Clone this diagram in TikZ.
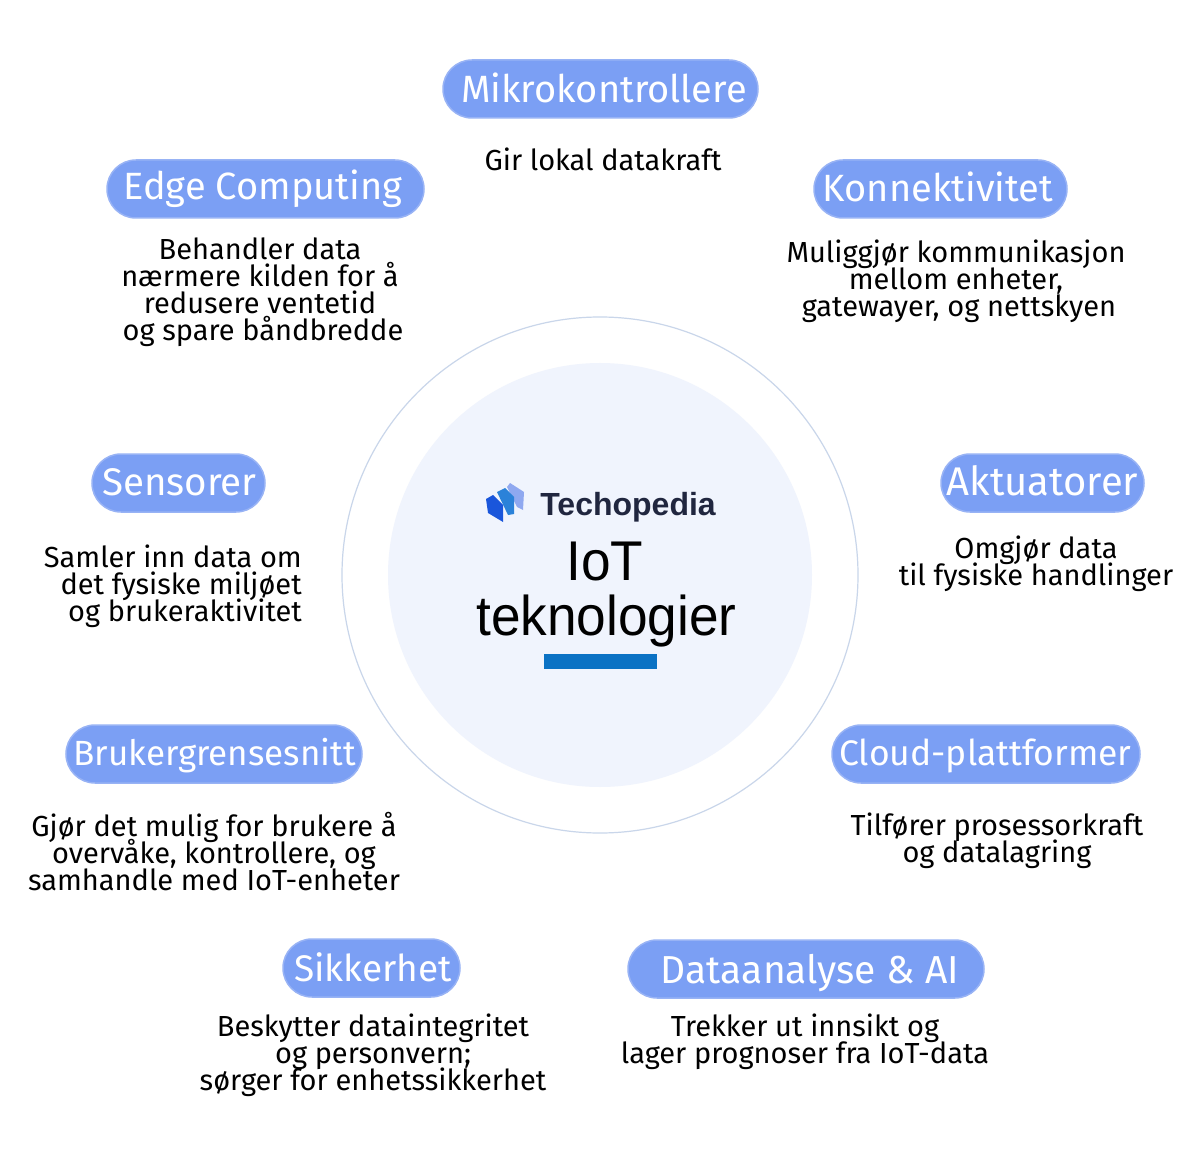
\documentclass[tikz,border=0pt]{standalone}
\usepackage{fontspec}
\setmainfont{Fira Sans}
\newfontfamily\headfont[FakeStretch=0.95]{Liberation Sans}
\newfontfamily\logofont{Liberation Sans}
\definecolor{pillblue}{HTML}{7B9FF4}
\definecolor{pilledge}{HTML}{98B3F5}
\definecolor{ringc}{HTML}{C9D6EA}
\definecolor{discc}{HTML}{F0F4FD}
\definecolor{barc}{HTML}{0B72C4}
\definecolor{navy}{HTML}{20263F}
\definecolor{logoa}{HTML}{1A56DB}
\definecolor{logob}{HTML}{2B82D9}
\definecolor{logoc}{HTML}{8FA8F0}
\normallineskiplimit=-100pt
\lineskiplimit=-100pt
\tikzset{
 pill/.style={rectangle,rounded corners=29pt,draw=pilledge,line width=1.5pt,fill=pillblue,text=white,inner sep=0pt,minimum height=58pt,text height=34pt,text depth=8pt,font=\fontsize{#1}{#1}\selectfont},
 desc/.style={text=black,inner sep=0pt,font=\fontsize{29}{27}\selectfont,align=center},
 descr/.style={desc,align=right},
 title/.style={inner sep=0pt,font=\headfont\fontsize{56}{56}\selectfont},
}
\newcommand{\upby}[2]{\raisebox{#1}[0pt][0pt]{#2}}
\begin{document}
\begin{tikzpicture}[x=1pt,y=-1pt]
\useasboundingbox (0,0) rectangle (1200,1150);
\fill[white] (0,0) rectangle (1200,1150);
\node[circle,draw=ringc,line width=1.2pt,minimum size=516pt,inner sep=0pt] (ring) at (600,575) {};
\node[circle,fill=discc,minimum size=424pt,inner sep=0pt] (disc) at (600,575) {};
% logo
\fill[logoc] (507,487) -- (510,483) -- (524,492) -- (523,510) -- (517,507) -- cycle;
\fill[logob] (497,492) -- (505,488) -- (514,497) -- (514,514) -- (508,515) -- cycle;
\fill[logoa] (486,499) -- (493,495) -- (503,505) -- (503,522) -- (488,513) -- cycle;
\node[inner sep=0pt,text=navy,font=\logofont\fontsize{32}{32}\selectfont\bfseries] (logo) at (628,507) {Techopedia};
\node[title,anchor=base] (t1) at (605,580) {IoT};
\node[title,anchor=base] (t2) at (606.5,635) {teknologier};
\node[fill=barc,minimum width=113pt,minimum height=15pt,inner sep=0pt] (bar) at (600.5,661.5) {};
% pills
\node[pill=38,minimum width=315pt] (p1) at (600.5,89) {\hspace*{7pt}\upby{-1pt}{Mikrokontrollere}};
\node[pill=38,minimum width=317pt] (p2) at (265.5,189) {\hspace*{-5pt}\upby{2pt}{Edge Computing}};
\node[pill=38,minimum width=253pt] (p3) at (940.5,189) {\hspace*{-5pt}Konnektivitet};
\node[pill=38.5,minimum width=173pt] (p4) at (178.5,483) {\hspace*{2pt}\upby{1pt}{Sensorer}};
\node[pill=40,minimum width=203pt] (p5) at (1042.5,483) {\upby{1pt}{Aktuatorer}};
\node[pill=35,minimum width=296pt] (p6) at (214,754) {\hspace*{1pt}\upby{2pt}{Brukergrensesnitt}};
\node[pill=35.5,minimum width=308pt] (p7) at (986,754) {\hspace*{-1pt}\upby{2pt}{Cloud-plattformer}};
\node[pill=37,minimum width=177pt] (p8) at (371.5,968) {\hspace*{3pt}Sikkerhet};
\node[pill=39,minimum width=356pt] (p9) at (806,969) {\hspace*{8pt}\upby{-1pt}{Dataanalyse \& AI}};
% descriptions
\node[desc] (d1) at (603,159) {Gir lokal datakraft};
\node[desc] (d2) at (263,292) {\hspace*{-6pt}Behandler data\\\hspace*{-6pt}nærmere kilden for å\\\hspace*{-6pt}redusere ventetid\\og spare båndbredde};
\node[desc] (d3) at (956,281) {Muliggjør kommunikasjon\\mellom enheter,\\\hspace*{6pt}gatewayer, og nettskyen};
\node[descr,anchor=east] (d4) at (302,586) {Samler inn data om\\det fysiske miljøet\\og brukeraktivitet};
\node[desc] (d5) at (1036,564) {Omgjør data\\til fysiske handlinger};
\node[desc] (d6) at (214,852) {Gjør det mulig for brukere å\\overvåke, kontrollere, og\\samhandle med IoT-enheter};
\node[desc] (d7) at (997,841) {Tilfører prosessorkraft\\og datalagring};
\node[desc] (d8) at (373,1055) {Beskytter dataintegritet\\og personvern;\\sørger for enhetssikkerhet};
\node[desc] (d9) at (805,1042) {Trekker ut innsikt og\\lager prognoser fra IoT-data};
\end{tikzpicture}
\end{document}
